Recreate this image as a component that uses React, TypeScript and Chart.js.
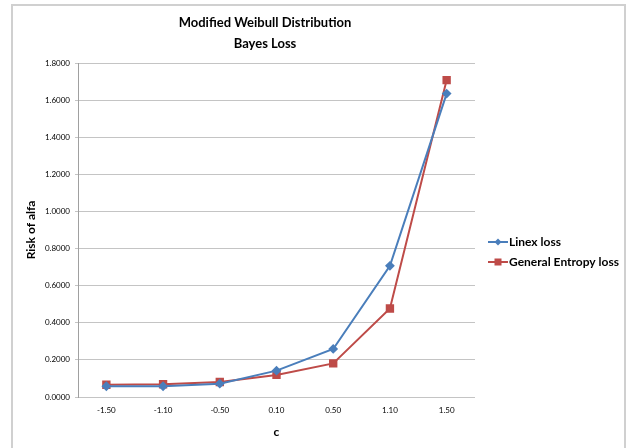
import React, { useEffect, useRef } from "react";
import { Chart, registerables } from "chart.js";

Chart.register(...registerables);

const categories = ["-1.50", "-1.10", "-0.50", "0.10", "0.50", "1.10", "1.50"];
const linexLoss = [0.058, 0.058, 0.072, 0.142, 0.259, 0.707, 1.635];
const generalEntropyLoss = [0.066, 0.069, 0.081, 0.119, 0.181, 0.477, 1.708];
const titleLines = ["Modified Weibull Distribution", "Bayes Loss"];
const seriesNames = ["Linex loss", "General Entropy loss"];
const yAxisTitle = "Risk of alfa";
const xAxisTitle = "c";

const BLUE = "#4a7ebb";
const RED = "#be4b48";
const FONT = "Lato, 'Open Sans', sans-serif";

const framePlugin = {
  id: "frame",
  beforeDraw(chart: any) {
    const ctx = chart.ctx;
    ctx.save();
    ctx.fillStyle = "#ffffff";
    ctx.fillRect(0, 0, chart.width, chart.height);
    ctx.strokeStyle = "#d0d0d0";
    ctx.lineWidth = 2;
    ctx.beginPath();
    ctx.moveTo(12, 460);
    ctx.lineTo(12, 5);
    ctx.lineTo(625, 5);
    ctx.lineTo(625, 460);
    ctx.stroke();
    ctx.restore();
  },
  afterDraw(chart: any) {
    const ctx = chart.ctx;
    ctx.save();
    // title
    ctx.fillStyle = "#000";
    ctx.textAlign = "center";
    ctx.textBaseline = "middle";
    ctx.font = `bold 13px ${FONT}`;
    ctx.fillText(titleLines[0], 265, 23);
    ctx.fillText(titleLines[1], 265, 44);
    // legend
    const ds = chart.data.datasets;
    const rows = [242, 262];
    ds.forEach((d: any, i: number) => {
      const y = rows[i];
      ctx.strokeStyle = d.borderColor;
      ctx.lineWidth = 2;
      ctx.beginPath();
      ctx.moveTo(488, y);
      ctx.lineTo(508, y);
      ctx.stroke();
      ctx.fillStyle = d.pointBackgroundColor;
      if (d.pointStyle === "rectRot") {
        ctx.beginPath();
        ctx.moveTo(498, y - 3.5);
        ctx.lineTo(501.5, y);
        ctx.lineTo(498, y + 3.5);
        ctx.lineTo(494.5, y);
        ctx.closePath();
        ctx.fill();
      } else {
        ctx.fillRect(494.5, y - 3.5, 7, 7);
      }
      ctx.fillStyle = "#000";
      ctx.textAlign = "left";
      ctx.font = `bold 12px ${FONT}`;
      ctx.fillText(seriesNames[i], 509, y);
    });
    ctx.restore();
  },
};

export default function App() {
  const ref = useRef<HTMLCanvasElement | null>(null);
  useEffect(() => {
    if (!ref.current) return;
    const chart = new Chart(ref.current, {
      type: "line",
      data: {
        labels: categories,
        datasets: [
          {
            label: seriesNames[0],
            data: linexLoss,
            borderColor: BLUE,
            backgroundColor: BLUE,
            pointBackgroundColor: BLUE,
            pointBorderColor: BLUE,
            pointStyle: "rectRot",
            pointRadius: 3.5,
            borderWidth: 2,
            tension: 0,
          },
          {
            label: seriesNames[1],
            data: generalEntropyLoss,
            borderColor: RED,
            backgroundColor: RED,
            pointBackgroundColor: RED,
            pointBorderColor: RED,
            pointStyle: "rect",
            pointRadius: 4.5,
            borderWidth: 2,
            tension: 0,
          },
        ],
      },
      options: {
        animation: false,
        responsive: false,
        layout: { padding: { left: 0, top: 63, right: 153, bottom: 0 } },
        plugins: {
          legend: { display: false },
          title: { display: false },
          tooltip: { enabled: false },
        },
        scales: {
          x: {
            offset: true,
            grid: { display: false, drawTicks: false },
            border: { display: false },
            ticks: {
              color: "#000",
              font: { family: FONT, size: 8 },
              padding: 9,
              maxRotation: 0,
            },
            title: {
              display: true,
              text: xAxisTitle,
              color: "#000",
              font: { family: FONT, size: 12, weight: "bold" },
              padding: { top: 2, bottom: 9 },
            },
            afterFit(scale: any) {
              scale.height = 51;
            },
          },
          y: {
            min: 0,
            max: 1.8,
            grid: {
              color: "#c4c4c4",
              lineWidth: 1,
              drawTicks: true,
              tickLength: 3,
              tickColor: "#c4c4c4",
            },
            border: { display: true, color: "#a0a0a0", width: 1 },
            ticks: {
              stepSize: 0.2,
              color: "#000",
              font: { family: FONT, size: 8 },
              padding: 5,
              callback: (v: any) => Number(v).toFixed(4),
            },
            title: {
              display: true,
              text: yAxisTitle,
              color: "#000",
              font: { family: FONT, size: 12, weight: "bold" },
              padding: { top: 24, bottom: 0 },
            },
            afterFit(scale: any) {
              scale.width = 78;
            },
          },
        },
      },
      plugins: [framePlugin],
    });
    return () => chart.destroy();
  }, []);
  return (
    <div style={{ position: "fixed", left: 0, top: 0, width: 628, height: 448 }}>
      <canvas ref={ref} width={628} height={448} style={{ width: 628, height: 448 }} />
    </div>
  );
}
